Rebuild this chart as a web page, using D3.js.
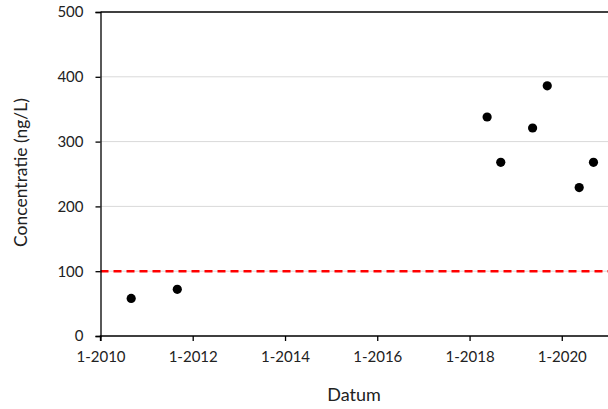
<!DOCTYPE html>
<html><head><meta charset="utf-8">
<script src="https://cdn.jsdelivr.net/npm/d3@7"></script>
<style>body{margin:0;background:#fff}svg{display:block}text{font-family:Lato,"Open Sans",sans-serif;fill:#222}</style>
</head><body><svg id="c" width="608" height="409"></svg>
<script>
const dates = ["2010-09-01","2011-09-01","2018-05-20","2018-09-05","2019-05-15","2019-09-08","2020-05-18","2020-09-08"];
const values = [58,72,338,268,321,386,229,268];
const yTicks = [0,100,200,300,400,500];
const xTickYears = [2010,2012,2014,2016,2018,2020];
const norm = 100;

const svg = d3.select("#c");
const m = {l:100.5, t:12, r:608, b:336};
const x = d3.scaleTime().domain([new Date(2010,0,1), new Date(2021,0,1)]).range([m.l, m.r]);
const y = d3.scaleLinear().domain([0,500]).range([m.b, m.t]);

// grid
svg.append("g").selectAll("line").data(yTicks.filter(d=>d>0&&d<500)).join("line")
  .attr("x1",m.l).attr("x2",m.r).attr("y1",d=>y(d)).attr("y2",d=>y(d))
  .attr("stroke","#d9d9d9").attr("stroke-width",1);
// top border
svg.append("line").attr("x1",m.l).attr("x2",m.r).attr("y1",y(500)).attr("y2",y(500)).attr("stroke","#000").attr("stroke-width",1.3);

// norm line
svg.append("line").attr("x1",m.l).attr("x2",m.r).attr("y1",y(norm)).attr("y2",y(norm))
  .attr("stroke","#ff0000").attr("stroke-width",2.5).attr("stroke-dasharray","8,5");

// axes
const yAxis = d3.axisLeft(y).tickValues(yTicks).tickSize(5).tickPadding(12);
const gy = svg.append("g").attr("transform",`translate(${m.l},0)`).call(yAxis);
const xAxis = d3.axisBottom(x).tickValues(xTickYears.map(yr=>new Date(yr,0,1))).tickSize(5).tickPadding(10)
  .tickFormat(d=>"1-"+d.getFullYear());
const gx = svg.append("g").attr("transform",`translate(0,${m.b})`).call(xAxis);
[gx,gy].forEach(g=>{
  g.select(".domain").attr("stroke","#000").attr("stroke-width",1.3);
  g.selectAll(".tick line").attr("stroke","#000").attr("stroke-width",1.3);
  g.selectAll(".tick text").attr("font-size",15).attr("fill","#222").attr("font-family","Lato, 'Open Sans', sans-serif");
});
gx.select(".domain").attr("d",`M${m.l},5V0H${m.r}`);

// points
svg.append("g").selectAll("circle").data(dates.map((d,i)=>({d:new Date(d),v:values[i]}))).join("circle")
  .attr("cx",p=>x(p.d)).attr("cy",p=>y(p.v)).attr("r",4.6).attr("fill","#000");

// titles
svg.append("text").attr("x",354).attr("y",400.5).attr("text-anchor","middle").attr("font-size",18).text("Datum");
svg.append("text").attr("transform","translate(26.5,172.5) rotate(-90)").attr("text-anchor","middle").attr("font-size",17.5).text("Concentratie (ng/L)");
</script></body></html>
